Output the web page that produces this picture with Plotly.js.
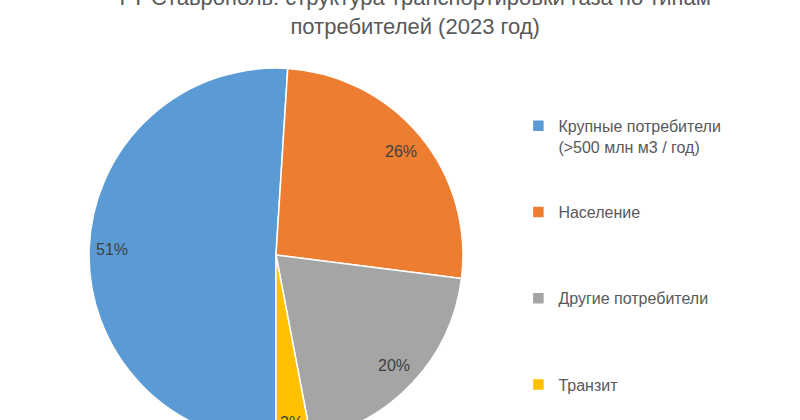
<!DOCTYPE html>
<html><head><meta charset="utf-8">
<script src="https://cdn.plot.ly/plotly-3.0.1.min.js"></script>
<style>
html,body{margin:0;padding:0;overflow:hidden;background:#fff;width:800px;height:420px}
#chart{position:absolute;left:0;top:-14px;width:800px;height:480px}
</style>
</head><body><div id="chart"></div>
<script>
const chartTitle = "ГТ Ставрополь: структура транспортировки газа по типам<br>потребителей (2023 год)";
const categories = ["Крупные потребители<br>(>500 млн м3 / год)", "Население", "Другие потребители", "Транзит"];
const shares = [51, 26, 20, 3];
const colors = ["#5B9BD5", "#ED7D31", "#A5A5A5", "#FFC000"];

const W = 800, H = 480;
const dom = {x: [0.11125, 0.57875], y: [0.05, 0.829]};
const rotation = 180;
const labelFont = 16;

// legend labels padded so entries are spread down the right side
const legendLabels = categories.map(c => {
  const lines = c.split("<br>").length;
  return c + "<br>\u00a0".repeat(4 - lines);
});

// percentage labels placed just inside the outer edge of each slice
const total = shares.reduce((a, b) => a + b, 0);
const rPx = Math.min((dom.x[1] - dom.x[0]) * W, (dom.y[1] - dom.y[0]) * H) / 2;
const cx = (dom.x[0] + dom.x[1]) / 2, cy = (dom.y[0] + dom.y[1]) / 2;
let cum = 0;
const annotations = shares.map((v, i) => {
  const mid = (rotation + (cum + v / 2) / total * 360) * Math.PI / 180;
  cum += v;
  const txt = Math.round(v / total * 100) + "%";
  const bw = txt.length * labelFont * 0.56, bh = labelFont * 1.15;
  const inset = Math.abs(bw / 2 * Math.sin(mid)) + Math.abs(bh / 2 * Math.cos(mid)) + 9;
  const d = rPx - inset;
  return {
    xref: "paper", yref: "paper",
    x: cx + d * Math.sin(mid) / W,
    y: cy + d * Math.cos(mid) / H,
    text: txt,
    showarrow: false, xanchor: "center", yanchor: "middle",
    font: {family: "Liberation Sans, Arial, sans-serif", size: labelFont, color: "#404040"}
  };
});

const data = [{
  type: "pie",
  labels: legendLabels,
  values: shares,
  sort: false,
  direction: "clockwise",
  rotation: rotation,
  textinfo: "none",
  hoverinfo: "label+percent",
  marker: {colors: colors, line: {color: "#ffffff", width: 1.5}},
  domain: dom
}];

const layout = {
  width: W, height: H,
  margin: {l: 0, r: 0, t: 0, b: 0},
  paper_bgcolor: "#ffffff",
  font: {family: "Liberation Sans, Arial, sans-serif", color: "#595959"},
  title: {
    text: chartTitle,
    x: 0.519, xanchor: "center", xref: "paper",
    y: 1, yanchor: "top", yref: "container", pad: {t: 19},
    font: {family: "Liberation Sans, Arial, sans-serif", size: 22, color: "#595959"}
  },
  showlegend: true,
  legend: {
    x: 0.648, xanchor: "left", y: 0.744, yanchor: "top",
    valign: "top", itemwidth: 30,
    font: {family: "Liberation Sans, Arial, sans-serif", size: 16, color: "#595959"},
    bgcolor: "rgba(0,0,0,0)"
  },
  annotations: annotations
};

Plotly.newPlot("chart", data, layout, {displayModeBar: false, staticPlot: true});
</script>
</body></html>
